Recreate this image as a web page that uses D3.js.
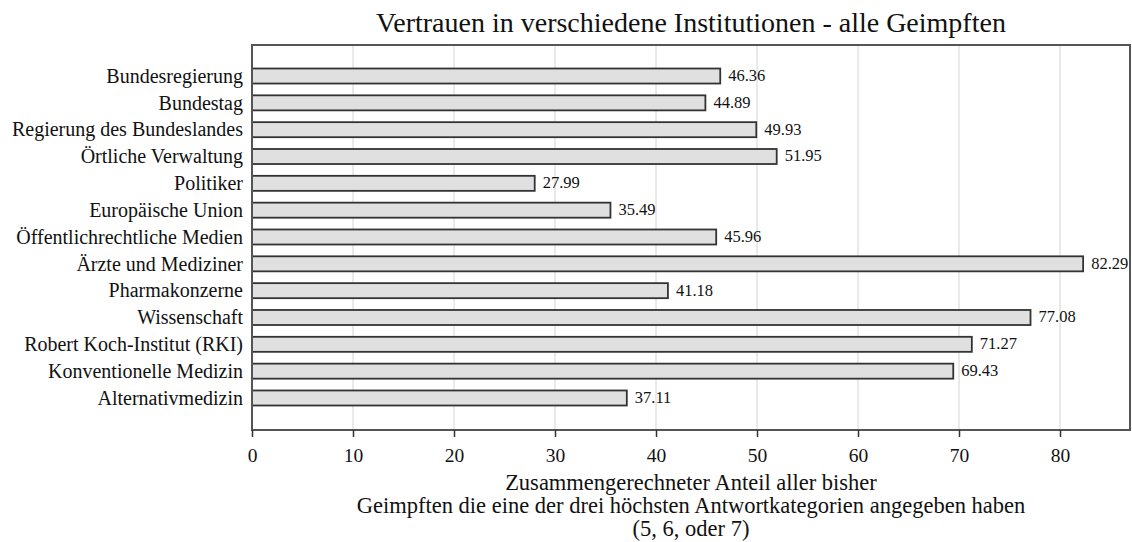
<!DOCTYPE html>
<html><head><meta charset="utf-8">
<script src="https://cdn.jsdelivr.net/npm/d3@7"></script>
<style>body{margin:0;background:#fff}svg{display:block}text{font-family:"Liberation Serif","Times New Roman",serif;fill:#111}</style>
</head><body>
<script>
const categories = ["Bundesregierung","Bundestag","Regierung des Bundeslandes","Örtliche Verwaltung","Politiker","Europäische Union","Öffentlichrechtliche Medien","Ärzte und Mediziner","Pharmakonzerne","Wissenschaft","Robert Koch-Institut (RKI)","Konventionelle Medizin","Alternativmedizin"];
const values = [46.36,44.89,49.93,51.95,27.99,35.49,45.96,82.29,41.18,77.08,71.27,69.43,37.11];
const xTicks = [0,10,20,30,40,50,60,70,80];
const title = "Vertrauen in verschiedene Institutionen - alle Geimpften";
const xTitle = ["Zusammengerechneter Anteil aller bisher","Geimpften die eine der drei höchsten Antwortkategorien angegeben haben","(5, 6, oder 7)"];

const W=1132,H=542;
const L=252,R=1130,T=45,B=430;
const svg=d3.select("body").append("svg").attr("width",W).attr("height",H);
const x=d3.scaleLinear().domain([0,86.93]).range([L,R]);
const y=d3.scaleBand().domain(categories).range([62.6,411.4]).paddingInner(0.44).paddingOuter(0.22);

// gridlines
svg.append("g").selectAll("line").data(xTicks.filter(d=>d>0)).join("line")
  .attr("x1",d=>x(d)).attr("x2",d=>x(d)).attr("y1",T).attr("y2",B)
  .attr("stroke","#d4d4d4").attr("stroke-width",1);

// bars
svg.append("g").selectAll("rect").data(values).join("rect")
  .attr("x",x(0)).attr("y",(d,i)=>y(categories[i]))
  .attr("width",d=>x(d)-x(0)).attr("height",y.bandwidth())
  .attr("fill","#e0e0e0").attr("stroke","#333").attr("stroke-width",1.8);

// value labels
svg.append("g").selectAll("text").data(values).join("text")
  .attr("x",d=>x(d)+8).attr("y",(d,i)=>y(categories[i])+y.bandwidth()/2)
  .attr("dy","0.3em").attr("font-size",16.5).text(d=>d.toFixed(2));

// frame
svg.append("rect").attr("x",L).attr("y",T).attr("width",R-L).attr("height",B-T)
  .attr("fill","none").attr("stroke","#555").attr("stroke-width",2);

// y labels
svg.append("g").selectAll("text").data(categories).join("text")
  .attr("x",L-9).attr("y",d=>y(d)+y.bandwidth()/2).attr("dy","0.34em")
  .attr("text-anchor","end").attr("font-size",20).text(d=>d);

// x axis
const xa=svg.append("g").attr("transform",`translate(0,${B})`)
  .call(d3.axisBottom(x).tickValues(xTicks).tickSize(7).tickPadding(0).tickFormat(d3.format("d")));
xa.select(".domain").remove();
xa.selectAll("line").attr("stroke","#333").attr("stroke-width",1.5);
xa.selectAll("text").attr("y",32).attr("dy",null).attr("font-size",19.5).attr("fill","#111").attr("font-family",'"Liberation Serif",serif');

// title
svg.append("text").attr("x",(L+R)/2).attr("y",32).attr("text-anchor","middle").attr("font-size",28).text(title);

// x title
svg.append("g").selectAll("text").data(xTitle).join("text")
  .attr("x",(L+R)/2).attr("y",(d,i)=>490+i*23).attr("text-anchor","middle").attr("font-size",22.5).text(d=>d);
</script>
</body></html>
